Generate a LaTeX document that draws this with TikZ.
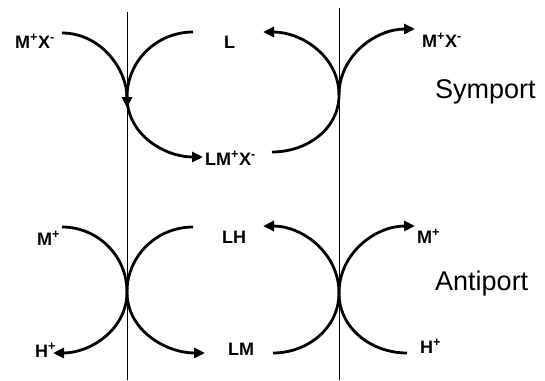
\documentclass[tikz,border=0pt]{standalone}
\usepackage{fontspec}
\setmainfont{Liberation Sans}
\usetikzlibrary{arrows.meta}
\begin{document}
\begin{tikzpicture}[x=1pt,y=1pt,
  curve/.style={line width=2.8pt},
  arr/.style={curve,-{Triangle[length=11pt,width=10pt]}},
  membrane/.style={line width=0.9pt},
  lbl/.style={font=\fontsize{18}{18}\selectfont\bfseries, inner sep=0pt, anchor=base west},
  big/.style={font=\fontsize{27}{27}\selectfont, inner sep=0pt, anchor=base west}]
\useasboundingbox (0,0) rectangle (545,-380);
% membranes
\coordinate (mlt) at (127,-12);
\coordinate (mlb) at (127,-380);
\coordinate (mrt) at (339,-8);
\coordinate (mrb) at (339,-380);
\draw[membrane] (mlt) -- (mlb);
\draw[membrane] (mrt) -- (mrb);
% labels
\node[lbl] (tlMX) at (15,-48) {M\textsuperscript{+}X\textsuperscript{-}};
\node[lbl] (tL) at (224,-48) {L};
\node[lbl] (tLMX) at (205,-165) {LM\textsuperscript{+}X\textsuperscript{-}};
\node[lbl] (trMX) at (422,-47) {M\textsuperscript{+}X\textsuperscript{-}};
\node[big] (sym) at (435,-98) {Symport};
\node[lbl] (blM) at (37,-245) {M\textsuperscript{+}};
\node[lbl] (blH) at (35,-357) {H\textsuperscript{+}};
\node[lbl] (bLH) at (222,-243) {LH};
\node[lbl] (bLM) at (228,-355) {LM};
\node[lbl] (brM) at (417,-243) {M\textsuperscript{+}};
\node[lbl] (brH) at (420,-353) {H\textsuperscript{+}};
\node[big] (anti) at (435,-290) {Antiport};
% top-left (symport, left membrane)
\coordinate (a1) at (62,-33);
\coordinate (a1x) at (127,-97);
\coordinate (a1a) at (127,-108);
\coordinate (a1e) at (203,-157);
\coordinate (b1) at (193,-32);
\draw[arr] (a1) to[out=0,in=90] (a1a);
\draw[arr] (a1x) to[out=-90,in=180] (a1e);
\draw[curve] (b1) to[out=180,in=90] (a1x);
% top-right (symport, right membrane)
\coordinate (c1) at (272,-152);
\coordinate (c1x) at (339,-95);
\coordinate (c1e) at (263,-32);
\coordinate (d1e) at (415,-29);
\draw[arr] (c1) to[out=0,in=-90] (c1x) to[out=90,in=0] (c1e);
\draw[arr] (c1x) to[out=90,in=180] (d1e);
% bottom-left (antiport, left membrane)
\coordinate (e1) at (62,-227);
\coordinate (e1x) at (127,-292);
\coordinate (e1e) at (53,-353);
\coordinate (f1) at (193,-227);
\coordinate (f1e) at (205,-353);
\draw[arr] (e1) to[out=0,in=90] (e1x) to[out=-90,in=0] (e1e);
\draw[arr] (f1) to[out=180,in=90] (e1x) to[out=-90,in=180] (f1e);
% bottom-right (antiport, right membrane)
\coordinate (g1) at (273,-353);
\coordinate (g1x) at (339,-293);
\coordinate (g1e) at (263,-226);
\coordinate (h1) at (407,-353);
\coordinate (h1e) at (415,-226);
\draw[arr] (g1) to[out=0,in=-90] (g1x) to[out=90,in=0] (g1e);
\draw[arr] (h1) to[out=180,in=-90] (g1x) to[out=90,in=180] (h1e);
\end{tikzpicture}
\end{document}
